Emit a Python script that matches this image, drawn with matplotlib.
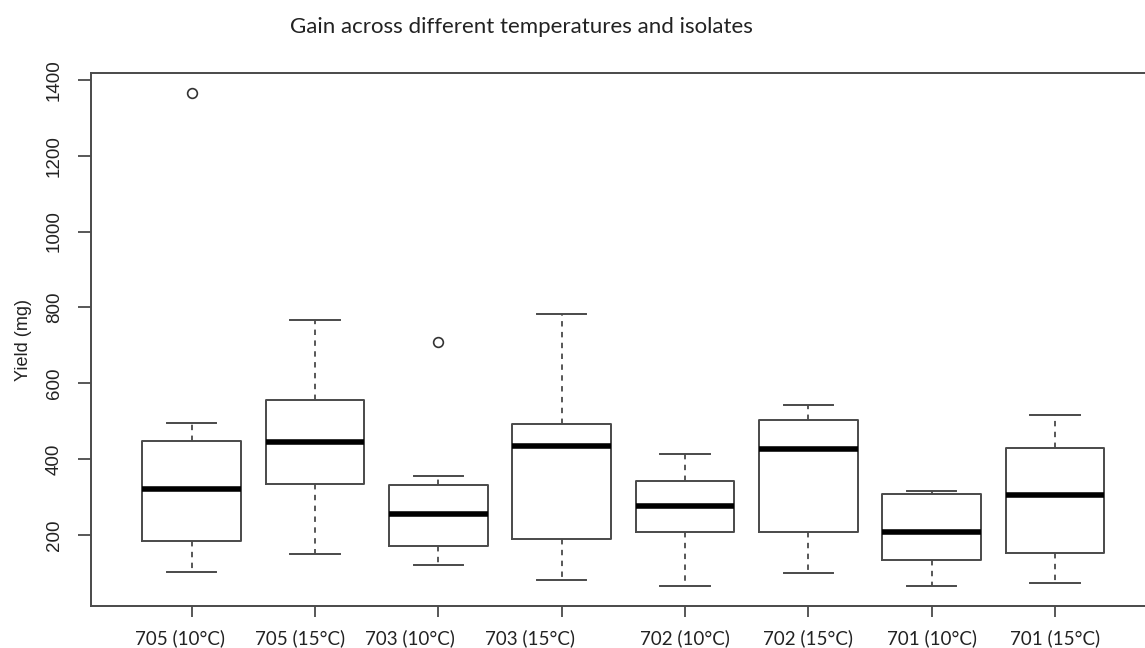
import matplotlib
matplotlib.use("Agg")
import matplotlib.pyplot as plt
from matplotlib.transforms import ScaledTranslation

# five-number summaries per isolate / temperature (mg)
groups = ["705 (10°C)", "705 (15°C)", "703 (10°C)", "703 (15°C)",
          "702 (10°C)", "702 (15°C)", "701 (10°C)", "701 (15°C)"]
lower_whisker = [102, 151, 121, 81, 65, 99, 67, 73]
q1 = [185, 334, 172, 190, 208, 209, 133, 154]
median = [321, 445, 256, 434, 276, 427, 209, 305]
q3 = [448, 556, 331, 492, 343, 502, 307, 429]
upper_whisker = [496, 768, 356, 783, 413, 543, 317, 517]
outliers = [[1366], [], [708], [], [], [], [], []]

yticks = [200, 400, 600, 800, 1000, 1200, 1400]

stats = []
for i, name in enumerate(groups):
    stats.append(dict(label=name, whislo=lower_whisker[i], q1=q1[i],
                      med=median[i], q3=q3[i], whishi=upper_whisker[i],
                      fliers=outliers[i]))

fig = plt.figure(figsize=(11.45, 6.48), dpi=100)
ax = fig.add_axes([0.0792, 0.0648, 0.9304, 0.8221])

edge = "#4a4a4a"
ax.bxp(stats, positions=range(1, len(groups) + 1), widths=0.8, capwidths=0.4,
       boxprops=dict(color=edge, linewidth=1.4),
       whiskerprops=dict(color=edge, linewidth=1.3, linestyle=(0, (3, 3))),
       capprops=dict(color=edge, linewidth=1.4),
       medianprops=dict(color="black", linewidth=4, solid_capstyle="butt"),
       flierprops=dict(marker="o", markerfacecolor="none", markeredgecolor="#333333",
                       markersize=7, markeredgewidth=1.2))

ax.set_xlim(0.18, 8.82)
ax.set_ylim(13, 1417)

for s in ax.spines.values():
    s.set_color(edge)
    s.set_linewidth(1.4)

ax.set_yticks(yticks)
ax.set_yticklabels([str(v) for v in yticks], rotation=90, va="center",
                   fontsize=13.5, family="Liberation Sans", color="#222222")
ax.tick_params(axis="y", length=9.5, width=1.3, color=edge, pad=10.5)
ax.set_xticks(range(1, len(groups) + 1))
ax.set_xticklabels(groups, fontsize=13.5, family="Lato", color="#222222")
ax.tick_params(axis="x", length=8, width=1.3, color=edge, pad=9)

# the left-hand category labels sit a little left of their ticks
label_shift = [-12, -15, -28, -32, 0, 0, 0, 0]
for lab, dx in zip(ax.get_xticklabels(), label_shift):
    lab.set_transform(lab.get_transform() + ScaledTranslation(dx / 100, 0, fig.dpi_scale_trans))

ax.set_ylabel("Yield (mg)", fontsize=13, family="Liberation Sans",
              color="#222222", labelpad=10)

fig.text(521.5 / 1145, 1 - 27 / 648, "Gain across different temperatures and isolates",
         ha="center", va="center", fontsize=16, family="Lato", color="#222222")

fig.savefig("out.png", dpi=100)
